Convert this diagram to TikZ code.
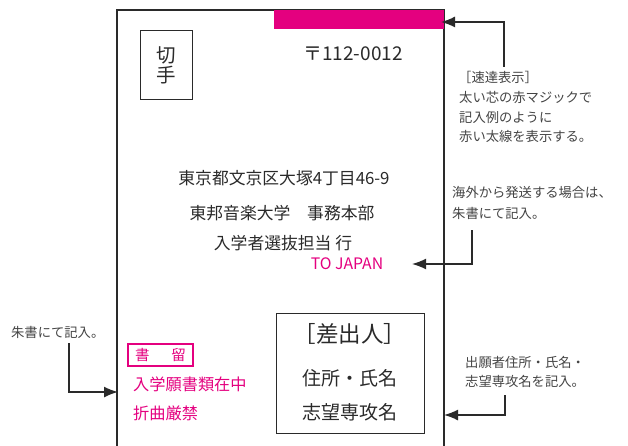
\documentclass[tikz,border=0pt]{standalone}
\usepackage{fontspec}
\setmainfont{Noto Sans CJK JP}
\usetikzlibrary{arrows.meta}
\definecolor{mag}{HTML}{E4007F}
\definecolor{ink}{HTML}{2A2A2A}
\definecolor{notec}{HTML}{444444}
\tikzset{
  env/.style={draw=ink, line width=1.1pt},
  conn/.style={draw=ink, line width=1.5pt, -{Latex[length=14pt,width=11pt]}},
  note/.style={text=notec, font=\fontsize{13.3}{16}\selectfont, anchor=west, inner sep=0pt},
  addr/.style={text=ink, font=\fontsize{16.8}{18}\selectfont, inner sep=0pt},
  magtext/.style={text=mag, font=\fontsize{16.2}{18}\selectfont, inner sep=0pt, anchor=west},
}
\begin{document}
\begin{tikzpicture}[x=1pt,y=-1pt]
\useasboundingbox (0,0) rectangle (628,446);
% envelope
\draw[env] (117,446) -- (117,10) -- (444,10) -- (444,446);
\fill[mag] (274,10) rectangle (444,29.5);
\node[draw=ink, line width=0.9pt, minimum width=52pt, minimum height=69pt, inner sep=0pt] (stamp) at (166,64.5) {};
\node[text=ink, font=\fontsize{19.5}{19.5}\selectfont, align=center, inner sep=0pt] (stamptext) at (166,65.5) {切\\手};
\node[addr, font=\fontsize{19}{18}\selectfont] (zip) at (353,54) {〒112-0012};
\node[addr] (a1) at (284,178) {東京都文京区大塚4丁目46-9};
\node[addr] (a2) at (282,213) {東邦音楽大学\quad 事務本部};
\node[addr] (a3) at (283,243) {入学者選抜担当 行};
\node[addr, text=mag, font=\fontsize{15.8}{18}\selectfont] (tojapan) at (347,264) {TO JAPAN};
% registered mail
\node[draw=mag, line width=1.1pt, minimum width=65pt, minimum height=22pt, inner sep=0pt, text=mag, font=\fontsize{14.5}{16}\selectfont] (kaki) at (160.5,355) {書\hspace{22pt}留};
\node[magtext] (m1) at (133,384) {入学願書類在中};
\node[magtext] (m2) at (133,413) {折曲厳禁};
% sender
\node[draw=ink, line width=0.9pt, minimum width=148pt, minimum height=120pt, inner sep=0pt] (sender) at (350,373) {};
\node[addr, font=\fontsize{22.5}{22}\selectfont] (s1) at (350,334) {［差出人］};
\node[addr, font=\fontsize{19}{20}\selectfont] (s2) at (350,378) {住所・氏名};
\node[addr, font=\fontsize{19}{20}\selectfont] (s3) at (350,412) {志望専攻名};
% notes
\node[note] (n1a) at (458,77) {［速達表示］};
\node[note] (n1b) at (459,97) {太い芯の赤マジックで};
\node[note] (n1c) at (459,117) {記入例のように};
\node[note] (n1d) at (459,136) {赤い太線を表示する。};
\node[note] (n2a) at (452,192) {海外から発送する場合は、};
\node[note] (n2b) at (452,213) {朱書にて記入。};
\node[note] (n3) at (11,332) {朱書にて記入。};
\node[note] (n4a) at (465,362) {出願者住所・氏名・};
\node[note] (n4b) at (465,381) {志望専攻名を記入。};
% connectors
\coordinate (c1s) at (504,67);
\coordinate (c1t) at (441,22);
\draw[conn] (c1s) |- (c1t);
\coordinate (c2s) at (472,230);
\coordinate (c2t) at (412,264);
\draw[conn] (c2s) |- (c2t);
\coordinate (c3s) at (69,343);
\coordinate (c3t) at (118,392);
\draw[conn] (c3s) |- (c3t);
\coordinate (c4s) at (505,395);
\coordinate (c4t) at (444,415);
\draw[conn] (c4s) |- (c4t);
\end{tikzpicture}
\end{document}
